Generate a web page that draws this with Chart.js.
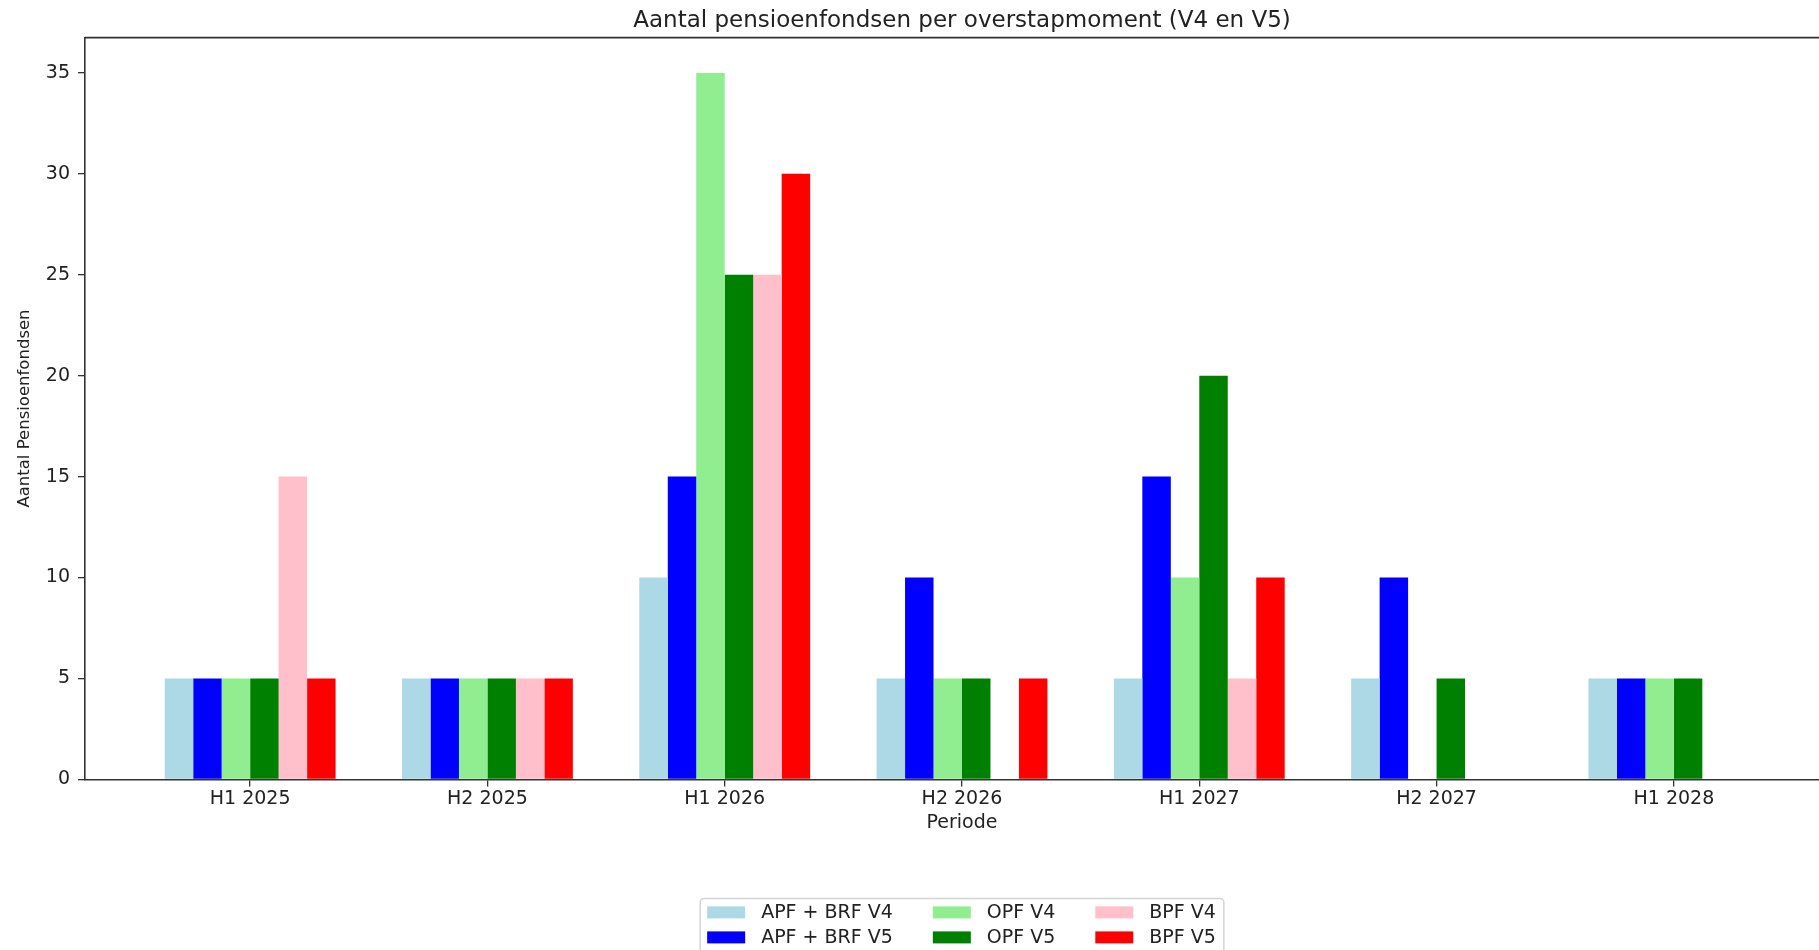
<!DOCTYPE html>
<html lang="nl">
<head>
<meta charset="utf-8">
<title>Aantal pensioenfondsen per overstapmoment</title>
<script src="https://cdn.jsdelivr.net/npm/chart.js@4.4.1/dist/chart.umd.min.js"></script>
<style>
  html, body { margin: 0; padding: 0; background: #fff; overflow: hidden; }
  /* the plot runs past the right edge of the window, as in the original */
  #wrap { position: relative; width: 1850px; height: 950px; }
</style>
</head>
<body>
<div id="wrap"><canvas id="overstapChart"></canvas></div>
<script>
// Perioden op de x-as
const periodes = ['H1 2025', 'H2 2025', 'H1 2026', 'H2 2026', 'H1 2027', 'H2 2027', 'H1 2028'];

// Aantal pensioenfondsen per periode
const apfBrfV4 = [5, 5, 10, 5, 5, 5, 5];
const apfBrfV5 = [5, 5, 15, 10, 15, 10, 5];
const opfV4 = [5, 5, 35, 5, 10, 0, 5];
const opfV5 = [5, 5, 25, 5, 20, 5, 5];
const bpfV4 = [15, 5, 25, 0, 5, 0, 0];
const bpfV5 = [5, 5, 30, 5, 10, 0, 0];

const reeksNamen = ['APF + BRF V4', 'APF + BRF V5', 'OPF V4', 'OPF V5', 'BPF V4', 'BPF V5'];
const reeksen = [apfBrfV4, apfBrfV5, opfV4, opfV5, bpfV4, bpfV5];
const kleuren = ['#add8e6', '#0000ff', '#90ee90', '#008000', '#ffc0cb', '#ff0000'];

const tekstKleur = '#222';
const asKleur = '#333';
const font = { family: 'DejaVu Sans', size: 19 };

// top and right spine of the axes box
const spines = {
    id: 'spines',
    afterDatasetsDraw(chart) {
        const { ctx, chartArea: a } = chart;
        ctx.save();
        ctx.strokeStyle = asKleur;
        ctx.lineWidth = 1.6;
        ctx.beginPath();
        ctx.moveTo(a.left, a.top);
        ctx.lineTo(a.right, a.top);
        ctx.lineTo(a.right, a.bottom);
        ctx.stroke();
        ctx.restore();
    }
};

// legend in 3 columns x 2 rows, filled column by column
const legendGrid = {
    id: 'legendGrid',
    afterDraw(chart) {
        const { ctx, chartArea } = chart;
        const items = chart.data.datasets;
        const cols = [[0, 1], [2, 3], [4, 5]];
        const patchW = 38, patchH = 12, gapText = 16, gapCol = 40, padL = 7, padR = 8;
        ctx.save();
        ctx.font = '19px "DejaVu Sans"';
        const colW = cols.map(c => Math.max(...c.map(i => ctx.measureText(items[i].label).width)));
        const total = padL + padR + cols.length * (patchW + gapText) +
            colW.reduce((s, w) => s + w, 0) + gapCol * (cols.length - 1);
        const left = (chartArea.left + chartArea.right) / 2 - total / 2;
        const top = chartArea.bottom + 119;

        ctx.fillStyle = '#fff';
        ctx.strokeStyle = '#d4d4d4';
        ctx.lineWidth = 1.5;
        ctx.beginPath();
        ctx.roundRect(left, top, total, 60, 4);
        ctx.fill();
        ctx.stroke();

        let x = left + padL;
        cols.forEach((c, ci) => {
            c.forEach((i, ri) => {
                const y = top + 14 + ri * 25;
                ctx.fillStyle = items[i].backgroundColor;
                ctx.fillRect(x, y - patchH / 2, patchW, patchH);
                ctx.fillStyle = tekstKleur;
                ctx.textBaseline = 'middle';
                ctx.textAlign = 'left';
                ctx.fillText(items[i].label, x + patchW + gapText, y + 1);
            });
            x += patchW + gapText + colW[ci] + gapCol;
        });
        ctx.restore();
    }
};

const ctx = document.getElementById('overstapChart').getContext('2d');
const overstapChart = new Chart(ctx, {
    type: 'bar',
    data: {
        datasets: reeksen.map((waarden, i) => ({
            label: reeksNamen[i],
            data: waarden.map((v, x) => ({ x: x, y: v })),
            backgroundColor: kleuren[i],
            borderWidth: 0,
            categoryPercentage: 0.72,
            barPercentage: 1
        }))
    },
    options: {
        responsive: true,
        maintainAspectRatio: false,
        animation: false,
        events: [],
        layout: { padding: { left: 0, right: 11, top: 0, bottom: 116 } },
        plugins: {
            legend: { display: false },
            tooltip: { enabled: false },
            title: {
                display: true,
                text: 'Aantal pensioenfondsen per overstapmoment (V4 en V5)',
                fullSize: false,
                color: tekstKleur,
                font: { family: 'DejaVu Sans', size: 23, weight: 'normal' },
                padding: { top: 7, bottom: 3 }
            }
        },
        scales: {
            x: {
                type: 'linear',
                min: -0.696,
                max: 6.696,
                offset: false,
                grid: { display: true, offset: false, drawOnChartArea: false, drawTicks: true, tickLength: 7, color: asKleur, lineWidth: 1.3 },
                border: { display: true, color: asKleur, width: 1.6 },
                ticks: {
                    stepSize: 1,
                    includeBounds: false,
                    autoSkip: false,
                    maxRotation: 0,
                    padding: 1,
                    color: tekstKleur,
                    font: font,
                    callback: v => periodes[v] ?? ''
                },
                title: { display: true, text: 'Periode', color: tekstKleur, font: font, padding: { top: 0, bottom: 0 } }
            },
            y: {
                min: 0,
                max: 36.75,
                grid: { display: true, drawOnChartArea: false, drawTicks: true, tickLength: 7, color: asKleur, lineWidth: 1.3 },
                border: { display: true, color: asKleur, width: 1.6 },
                ticks: { stepSize: 5, includeBounds: false, padding: 8, color: tekstKleur, font: font },
                title: {
                    display: true,
                    text: 'Aantal Pensioenfondsen',
                    color: tekstKleur,
                    font: { family: 'DejaVu Sans', size: 16.5 },
                    padding: { top: 15, bottom: 0 }
                },
                afterFit(scale) { scale.width = 85; }
            }
        }
    },
    plugins: [spines, legendGrid]
});
</script>
</body>
</html>
